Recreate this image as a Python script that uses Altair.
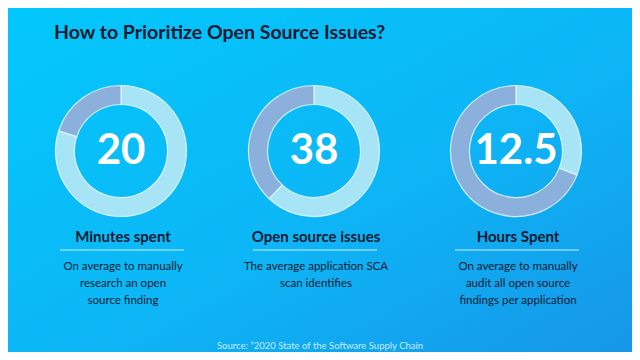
import altair as alt
import pandas as pd

# ---- data ----
title_text = "How to Prioritize Open Source Issues?"
metrics = ["Minutes spent", "Open source issues", "Hours Spent"]
big_numbers = ["20", "38", "12.5"]
dark_share = [20, 38, 69]  # percent of ring drawn in the darker colour
descriptions = [
    ["On average to manually", "research an open", "source finding"],
    ["The average application SCA", "scan identifies"],
    ["On average to manually", "audit all open source", "findings per application"],
]
source_text = "Source: \u201d2020 State of the Software Supply Chain"

# ---- layout / style ----
W, H = 624, 344
centers_x = [113, 306, 508]
center_y = 143
FONT = "Lato"
DARK = "#8bb0dc"
LIGHT = "#a6e4f6"
TEXT_DARK = "#0b1a30"

rows = []
for m, d in zip(metrics, dark_share):
    rows.append({"metric": m, "part": "rest", "share": 100 - d, "ord": 0})
    rows.append({"metric": m, "part": "value", "share": d, "ord": 1})
ring_df = pd.DataFrame(rows)

dummy = pd.DataFrame({"a": [0]})

bg = alt.Chart(dummy).mark_rect(
    color=alt.Gradient(
        gradient="linear",
        stops=[
            alt.GradientStop(color="#02c8fd", offset=0),
            alt.GradientStop(color="#0db6f6", offset=0.55),
            alt.GradientStop(color="#1696e8", offset=1),
        ],
        x1=0, y1=0, x2=1, y2=1,
    )
).encode(x=alt.value(0), x2=alt.value(W), y=alt.value(0), y2=alt.value(H))

title = alt.Chart(dummy).mark_text(
    text=title_text, font=FONT, fontSize=19.5, fontWeight="bold",
    color=TEXT_DARK, align="left", baseline="alphabetic",
).encode(x=alt.value(46), y=alt.value(31))

layers = [bg, title]

for i, m in enumerate(metrics):
    cx = centers_x[i]
    ring = alt.Chart(ring_df).transform_filter(
        alt.datum.metric == m
    ).mark_arc(
        innerRadius=46.5, outerRadius=65.5, stroke="#e6f8ff",
        strokeWidth=1.2, strokeOpacity=0.85,
    ).encode(
        theta=alt.Theta("share:Q", stack=True, scale=alt.Scale(domain=[0, 100])),
        color=alt.Color("part:N", scale=alt.Scale(domain=["rest", "value"], range=[LIGHT, DARK]), legend=None),
        order=alt.Order("ord:Q"),
        x=alt.value(cx), y=alt.value(center_y),
    )
    num = alt.Chart(dummy).mark_text(
        text=big_numbers[i], font=FONT, fontSize=42, fontWeight="bold",
        color="white", align="center", baseline="middle",
    ).encode(x=alt.value(cx), y=alt.value(center_y))
    label = alt.Chart(dummy).mark_text(
        text=m, font=FONT, fontSize=15, fontWeight="bold",
        color=TEXT_DARK, align="center", baseline="alphabetic",
    ).encode(x=alt.value(cx + 2), y=alt.value(234))
    rule = alt.Chart(dummy).mark_rule(
        color="#bfeeff", strokeWidth=1.5, opacity=0.7,
    ).encode(x=alt.value(cx - 61), x2=alt.value(cx + 63), y=alt.value(242))
    desc = alt.Chart(dummy).mark_text(
        text=descriptions[i], font=FONT, fontSize=11.5,
        color=TEXT_DARK, align="center", baseline="middle", lineHeight=17,
    ).encode(x=alt.value(cx + 2), y=alt.value(259))
    layers += [ring, num, label, rule, desc]

source = alt.Chart(dummy).mark_text(
    text=source_text, font=FONT, fontSize=9.5,
    color="#c4ecfd", align="center", baseline="middle",
).encode(x=alt.value(312), y=alt.value(338))
layers.append(source)

chart = alt.layer(*layers).properties(
    width=W, height=H, padding=0, autosize="none",
).configure_view(stroke=None)

chart.save("out.html", embed_options={"renderer": "svg", "actions": False})
